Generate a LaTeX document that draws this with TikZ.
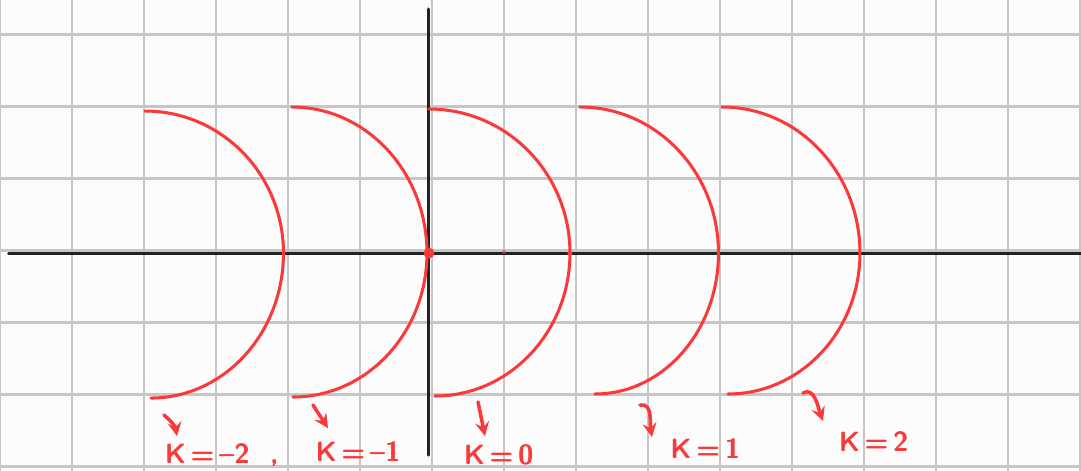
\documentclass[tikz,border=0pt]{standalone}
\usepackage{tikz}
\usetikzlibrary{calc}
\definecolor{pen}{RGB}{250,58,58}
\definecolor{ink}{RGB}{34,34,34}
\definecolor{paper}{RGB}{252,252,252}

\begin{document}
\begin{tikzpicture}[
    gridline/.style={gray!45, line width=0.8pt},
    axis/.style={ink, line width=1.2pt, line cap=round},
    branch/.style={pen, line width=1.2pt, line cap=round},
    pointer/.style={->, >=stealth, pen, line width=1.4pt, line cap=round},
    klabel/.style={anchor=base west, inner sep=0pt, text=pen,
                   font=\sffamily\bfseries\fontsize{11}{12}\selectfont}
  ]
  % page and squared paper
  \fill[paper] (-5.958,-3.014) rectangle (9.056,3.514);
  \useasboundingbox (-5.958,-3.014) rectangle (9.056,3.514);
  \begin{scope}
    \clip (-5.958,-3.014) rectangle (9.056,3.514);
    \draw[gridline, shift={(0.042,0.035)}] (-7,-4) grid (10,4);
  \end{scope}

  % axes
  \coordinate (O) at (0,0);
  \coordinate (xl) at (-5.839,0);
  \coordinate (xr) at (9.1,0);
  \coordinate (yt) at (0,3.389);
  \coordinate (yb) at (0,-2.806);
  \draw[axis] (xl) -- (xr);
  \draw[axis] (yb) -- (yt);

  % one half circle for every k
  \foreach \tx/\ra/\ha/\rb/\hb in {
      -3.944/1.923/1.972/1.840/2.014,
      -1.903/1.875/2.028/1.861/2.000,
       0.000/1.958/2.000/1.875/1.986,
       2.097/1.924/2.028/1.715/1.958,
       4.069/1.917/2.028/1.833/1.958}
    \draw[branch] (\tx,\ha)
      arc[start angle=90, end angle=0, x radius=\ra, y radius=\ha]
      arc[start angle=0, end angle=-90, x radius=\rb, y radius=\hb];

  \fill[pen] (O) circle (0.075);
  \fill[pen] (1.042,0.014) circle (0.025);
  \fill[pen] (1.958,0) circle (0.035);

  % labels
  \node[klabel] (km2) at (-3.676,-2.917) {K\,=\,--2\ \ ,};
  \node[klabel] (km1) at (-1.583,-2.899) {K\,=\,--1};
  \node[klabel] (k0)  at (0.477,-2.944)  {K\,=\,0};
  \node[klabel] (k1)  at (3.347,-2.847)  {K\,=\,1};
  \node[klabel] (k2)  at (5.685,-2.760)  {K\,=\,2};

  \coordinate (am2) at (-3.681,-2.250);
  \coordinate (bm2) at (-3.500,-2.542);
  \coordinate (am1) at (-1.611,-2.111);
  \coordinate (bm1) at (-1.403,-2.431);
  \coordinate (a0)  at (0.681,-2.069);
  \coordinate (b0)  at (0.778,-2.542);
  \coordinate (a1)  at (2.931,-2.111);
  \coordinate (b1)  at (3.097,-2.556);
  \coordinate (a2)  at (5.194,-1.944);
  \coordinate (b2)  at (5.472,-2.333);
  \draw[pointer] (am2) to[out=-40, in=100] (bm2);
  \draw[pointer] (am1) -- (bm1);
  \draw[pointer] (a0) -- (b0);
  \draw[pointer] (a1) to[out=10, in=100] (b1);
  \draw[pointer] (a2) to[out=30, in=110] (b2);
\end{tikzpicture}
\end{document}
